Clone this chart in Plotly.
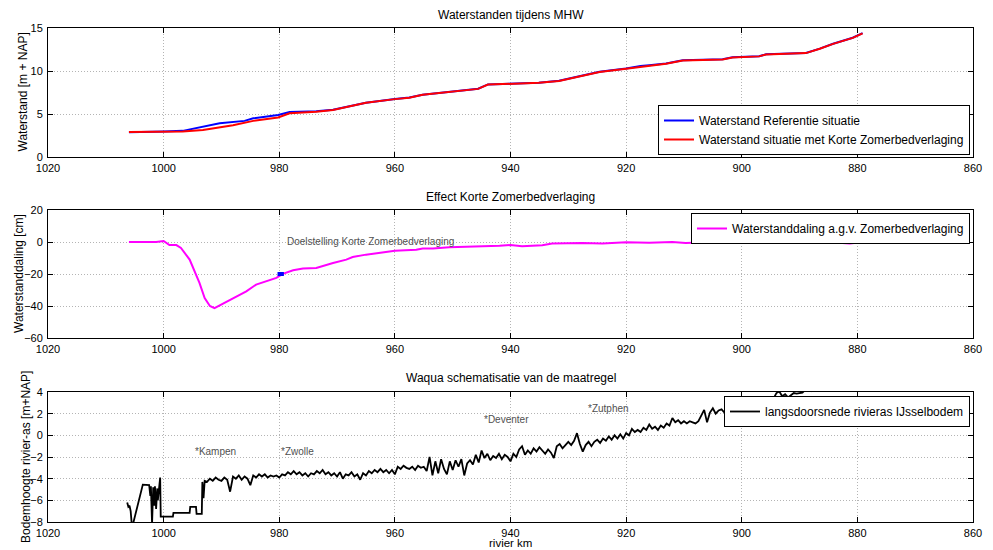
import plotly.graph_objects as go

# page body has an 8px default margin; the figure is sized to fill the rest of the 993x550 window
PAGE_W, PAGE_H, BODY_MARGIN = 993, 550, 8
W, H = PAGE_W - BODY_MARGIN, PAGE_H - BODY_MARGIN

# ---------------- data ----------------
# Top panel: water levels during MHW [m + NAP]
REF_KM = [1006.0, 1001.8, 1000.0, 996.7, 993.2, 990.3, 986.0, 984.5, 980.2, 978.2, 975.0, 973.6,
          970.7, 967.8, 965.0, 960.0, 957.5, 955.2, 950.6, 945.6, 943.9, 940.5, 939.5, 935.1,
          931.6, 928.1, 924.6, 920.0, 918.5, 917.5, 916.0, 913.1, 910.2, 903.3, 901.6, 897.0,
          895.8, 888.9, 886.5, 884.2, 880.8, 879.1]
REF_WL = [2.88, 2.90, 2.97, 3.04, 3.54, 3.92, 4.20, 4.50, 4.88, 5.23, 5.30, 5.33,
          5.50, 5.95, 6.32, 6.75, 6.92, 7.25, 7.56, 7.94, 8.44, 8.52, 8.62, 8.64,
          8.87, 9.40, 9.90, 10.29, 10.50, 10.58, 10.67, 10.87, 11.25, 11.37, 11.60, 11.72,
          11.94, 12.10, 12.60, 13.17, 13.87, 14.40]

KZB_KM = [1006.0, 1000.0, 996.7, 993.2, 990.5, 988.0, 984.5, 980.2, 978.2, 975.0, 973.6, 970.7,
          967.8, 965.0, 960.0, 957.5, 955.2, 950.6, 945.6, 943.9, 940.0, 935.1, 931.6, 928.1,
          924.6, 920.0, 916.0, 913.1, 910.2, 903.3, 901.6, 897.0, 895.8, 888.9, 886.5, 884.2,
          880.8, 879.1]
KZB_WL = [2.92, 2.95, 2.96, 3.15, 3.40, 3.70, 4.20, 4.60, 5.08, 5.20, 5.27, 5.46,
          5.92, 6.30, 6.73, 6.90, 7.23, 7.54, 7.92, 8.42, 8.54, 8.62, 8.85, 9.38,
          9.88, 10.27, 10.65, 10.85, 11.23, 11.35, 11.58, 11.70, 11.92, 12.08, 12.58, 13.15,
          13.85, 14.38]

# Middle panel: water level decrease [cm]
DALING_KM = [1006.0, 1001.3, 1000.0, 999.0, 997.8, 997.0, 995.5, 993.8, 992.9, 992.0, 991.2,
             989.2, 987.4, 985.7, 984.0, 982.2, 980.5, 979.4, 977.6, 975.9, 973.6, 970.7, 968.4,
             967.3, 965.0, 960.0, 956.3, 955.2, 953.4, 950.6, 947.7, 941.9, 940.0, 938.0, 934.5,
             932.8, 927.6, 924.1, 920.0, 916.0, 912.0, 909.7, 904.5, 898.1, 895.8, 890.0, 887.2,
             884.2, 881.3, 879.1]
DALING_CM = [0.0, 0.0, 0.6, -1.9, -1.9, -3.7, -11.0, -25.6, -35.0, -40.0, -41.4,
             -37.6, -34.3, -30.8, -26.6, -24.5, -22.4, -19.9, -17.7, -16.6, -16.2, -13.1, -11.0,
             -9.4, -7.9, -5.4, -4.8, -4.0, -4.0, -3.3, -3.1, -2.3, -1.9, -2.7, -2.0,
             -1.0, -0.6, -1.0, -0.2, -0.4, 0.0, -0.6, 0.0, 0.4, -0.6, -0.4, 0.4,
             -0.4, -1.0, 0.0]

DOEL_KM = [980.3, 979.2]
DOEL_CM = [-20.0, -20.0]

# Bottom panel: river bed level along the axis [m+NAP]
BED_KM_START = [1006.3, 1006.1, 1005.9, 1005.7, 1005.5, 1005.3, 1003.6, 1002.5, 1002.3, 1002.2,
                1002.0, 1001.8, 1001.6, 1001.5, 1001.3, 1001.1, 1001.0, 1000.8, 1000.6, 1000.5,
                998.4, 998.3, 995.5, 995.4, 994.4, 994.3, 993.4, 993.3, 993.1, 992.9]
BED_START = [-6.2, -6.6, -6.5, -7.0, -8.3, -8.2, -4.55, -4.6, -5.6, -4.7,
             -8.2, -4.8, -6.5, -4.7, -6.8, -4.9, -6.0, -5.0, -3.9, -7.5,
             -7.5, -7.15, -7.15, -6.6, -6.6, -7.25, -7.25, -4.3, -5.8, -4.2]
BED_DENSE_START_KM = 992.5
BED_DENSE_STEP_KM = 0.5
BED_DENSE = [
    -4.3, -4.0, -4.2, -3.9, -4.1, -4.2, -3.9, -4.1, -5.2, -3.8,
    -4.0, -3.7, -4.1, -3.8, -4.0, -4.6, -3.7, -3.9, -3.6, -3.8,
    -3.6, -3.9, -3.7, -3.8, -3.7, -3.9, -3.6, -3.7, -3.4, -3.6,
    -3.3, -3.6, -3.4, -3.7, -3.5, -3.8, -3.5, -3.6, -3.3, -3.5,
    -3.2, -3.6, -3.4, -3.7, -3.5, -3.8, -3.4, -4.0, -3.6, -3.7,
    -3.4, -3.8, -3.6, -4.1, -3.5, -3.7, -3.3, -3.5, -3.2, -3.4,
    -3.1, -3.4, -3.2, -3.5, -3.2, -3.6, -2.9, -3.1, -2.8, -3.0,
    -3.1, -2.9, -3.2, -2.8, -3.0, -2.9, -3.3, -2.0, -3.7, -2.4,
    -3.5, -2.2, -3.1, -3.6, -2.4, -3.2, -2.3, -2.9, -2.2, -3.7,
    -2.6, -2.3, -2.7, -1.8, -2.5, -1.4, -2.1, -1.7, -2.3, -1.9,
    -2.1, -1.7, -2.2, -1.8, -2.0, -2.4, -1.7, -2.0, -1.3, -1.0,
    -1.8, -1.4, -1.7, -1.2, -1.5, -1.1, -1.4, -1.7, -1.3, -1.6,
    -2.1, -1.0, -0.8, -1.2, -0.9, -0.6, -0.9, -0.5, 0.2, -0.8,
    -1.5, -0.9, -0.6, -1.0, -0.6, -0.4, -0.7, -0.3, -0.5, -0.1,
    -0.4, 0.0, -0.3, 0.1, -0.3, 0.2, 0.0, 0.6, 0.3, 0.5,
    0.3, 0.7, 0.5, 1.0, 0.6, 0.8, 0.5, 0.9, 0.7, 1.1,
    0.9, 1.6, 1.2, 1.4, 1.1, 1.3, 1.1, 1.3, 1.2, 1.1,
    1.3, 1.9, 2.35, 1.2, 2.1, 2.5, 2.0, 2.3, 2.4, 2.1,
    2.4, 2.6, 2.0, 2.5, 2.7, 3.0, 2.6, 3.2, 2.9, 3.3,
    3.0, 3.4, 3.1, 3.5, 3.3, 3.5, 3.4, 3.9, 4.05, 3.6,
    3.8, 3.5, 3.7, 3.9, 3.85, 3.9, 3.95, 4.2, 4.3, 4.1,
    4.4, 4.2, 4.5, 4.4, 4.7, 4.6, 4.9, 4.8, 5.1, 5.0,
    5.3, 5.2, 5.4, 5.5, 5.6, 5.7,
]
BED_KM = BED_KM_START + [round(BED_DENSE_START_KM - BED_DENSE_STEP_KM * i, 2) for i in range(len(BED_DENSE))]
BED = BED_START + BED_DENSE

PLACES = ["*Kampen", "*Zwolle", "*Deventer", "*Zutphen"]
PLACE_KM = [995.0, 980.0, 945.0, 926.9]
PLACE_Z = [-1.45, -1.45, 1.5, 2.5]

X_TICKS = [1020, 1000, 980, 960, 940, 920, 900, 880, 860]

TITLES = ["Waterstanden tijdens MHW", "Effect Korte Zomerbedverlaging",
          "Waqua schematisatie van de maatregel"]
YTITLES = ["Waterstand [m + NAP]", "Waterstanddaling [cm]", "Bodemhoogte rivier-as [m+NAP]"]

# ---------------- layout helpers ----------------
FONT = "Liberation Sans, Arial, Helvetica, sans-serif"

def px_x(p):
    return (p - BODY_MARGIN) / W

def px_y(p):
    return 1 - (p - BODY_MARGIN) / H

XL, XR = 48, 973
PANELS = [(28, 157), (210, 338), (392, 522)]

fig = go.Figure()

fig.add_trace(go.Scatter(x=REF_KM, y=REF_WL, mode="lines", line=dict(color="#0000ff", width=2),
                         name="Waterstand Referentie situatie", xaxis="x", yaxis="y", legend="legend"))
fig.add_trace(go.Scatter(x=KZB_KM, y=KZB_WL, mode="lines", line=dict(color="#ff0000", width=2),
                         name="Waterstand situatie met Korte Zomerbedverlaging", xaxis="x", yaxis="y",
                         legend="legend"))
fig.add_trace(go.Scatter(x=DALING_KM, y=DALING_CM, mode="lines", line=dict(color="#ff00ff", width=2),
                         name="Waterstanddaling a.g.v. Zomerbedverlaging", xaxis="x2", yaxis="y2",
                         legend="legend2"))
fig.add_trace(go.Scatter(x=DOEL_KM, y=DOEL_CM, mode="lines", line=dict(color="#0000ff", width=4),
                         showlegend=False, xaxis="x2", yaxis="y2"))
fig.add_trace(go.Scatter(x=BED_KM, y=BED, mode="lines", line=dict(color="#000000", width=1.8),
                         name="langsdoorsnede rivieras IJsselbodem", xaxis="x3", yaxis="y3",
                         legend="legend3"))

axis_common = dict(showline=True, mirror="ticks", linecolor="black", linewidth=1,
                   ticks="inside", ticklen=5, tickcolor="black", showgrid=True,
                   gridcolor="#b4b4b4", griddash="1px,2px", gridwidth=1, zeroline=False,
                   automargin=False,
                   tickfont=dict(family=FONT, size=11, color="black"))

yranges = [([0, 15], 5), ([-60, 20], 20), ([-8, 4], 2)]
layout = dict(width=W, height=H, margin=dict(l=0, r=0, t=0, b=0, autoexpand=False),
              paper_bgcolor="white", plot_bgcolor="white", font=dict(family=FONT, color="black"))
for i, ((top, bot), (yr, dt)) in enumerate(zip(PANELS, yranges)):
    s = "" if i == 0 else str(i + 1)
    layout["xaxis" + s] = dict(domain=[px_x(XL), px_x(XR)], range=[1020, 860], tickvals=X_TICKS,
                               anchor="y" + s, ticklabelstandoff=1, **axis_common)
    layout["yaxis" + s] = dict(domain=[px_y(bot), px_y(top)], range=yr, dtick=dt,
                               anchor="x" + s, ticklabelstandoff=2, **axis_common)

leg_common = dict(bgcolor="white", bordercolor="black", borderwidth=1,
                  font=dict(family=FONT, size=12, color="black"), xanchor="right",
                  tracegroupgap=0, itemwidth=30)
layout["legend"] = dict(x=px_x(970), y=px_y(155), yanchor="bottom", **leg_common)
layout["legend2"] = dict(x=px_x(970), y=px_y(213), yanchor="top", **leg_common)
layout["legend3"] = dict(x=px_x(970), y=px_y(396), yanchor="top", **leg_common)
fig.update_layout(**layout)

anns = []
title_y = [15, 197, 378]
for t, ty in zip(TITLES, title_y):
    anns.append(dict(text=t, xref="paper", yref="paper", x=px_x((XL + XR) / 2), y=px_y(ty),
                     showarrow=False, xanchor="center", yanchor="middle",
                     font=dict(family=FONT, size=12, color="black")))
ytitle_x = [22, 19, 26]
for t, tx, (top, bot) in zip(YTITLES, ytitle_x, PANELS):
    anns.append(dict(text=t, xref="paper", yref="paper", x=px_x(tx), y=px_y((top + bot) / 2),
                     showarrow=False, textangle=-90, xanchor="center", yanchor="middle",
                     font=dict(family=FONT, size=12, color="black")))
anns.append(dict(text="rivier km", xref="paper", yref="paper", x=px_x((XL + XR) / 2), y=px_y(550),
                 showarrow=False, xanchor="center", yanchor="bottom", borderpad=0,
                 font=dict(family=FONT, size=11.5, color="black")))
anns.append(dict(text="Doelstelling Korte Zomerbedverlaging", xref="x2", yref="y2", x=979.0, y=0.2,
                 showarrow=False, xanchor="left", yanchor="middle",
                 font=dict(family=FONT, size=10, color="#505050")))
for name, km, z in zip(PLACES, PLACE_KM, PLACE_Z):
    anns.append(dict(text=name, xref="x3", yref="y3", x=km, y=z, showarrow=False,
                     xanchor="left", yanchor="middle", font=dict(family=FONT, size=10, color="#505050")))
fig.update_layout(annotations=anns)

fig.write_html("out.html")
